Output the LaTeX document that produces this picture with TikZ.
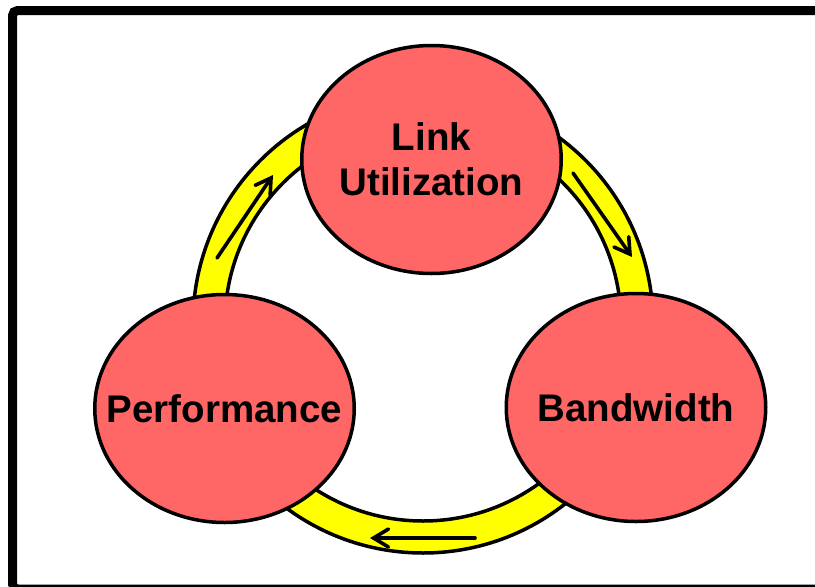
\documentclass[tikz,border=0pt]{standalone}
\usepackage{fontspec}
\setmainfont{Liberation Sans}
\usetikzlibrary{shapes.geometric,arrows.meta}
\definecolor{bubblered}{HTML}{FF6666}
\definecolor{ringyellow}{HTML}{FFFF00}
\tikzset{
  frame/.style={draw=black,line width=9pt,rounded corners=5pt},
  ring/.style={fill=ringyellow,draw=black,line width=3.5pt,even odd rule},
  bubble/.style={ellipse,draw=black,line width=3.5pt,fill=bubblered,
    minimum width=259.5pt,minimum height=228pt,inner sep=0pt},
  caption/.style={font=\bfseries\fontsize{38.5}{45}\selectfont,align=center,text=black},
  flow/.style={draw=black,line width=3.6pt,-{Straight Barb[length=15pt,width=18pt,line cap=round]},line cap=round}
}
\begin{document}
\begin{tikzpicture}[x=1pt,y=-1pt]
\useasboundingbox (0,0) rectangle (815,587);
% outer frame
\draw[frame] (12.5,10.5) rectangle (822,589);
% yellow cycle ring behind the bubbles
\coordinate (hub) at (423,323);
\path[ring] (hub) circle[radius=230] (hub) circle[radius=198];
% the three bubbles
\node[bubble,label={[caption]center:Link\\Utilization}] (lu) at (431.5,159.5) {};
\node[bubble,label={[caption]center:Performance}] (pf) at (224.5,408.5) {};
\node[bubble,label={[caption]center:Bandwidth}] (bw) at (636,407.5) {};
% direction arrows inside the ring
\coordinate (a1s) at (217,258);
\coordinate (a1e) at (273,175);
\coordinate (a2s) at (573,173);
\coordinate (a2e) at (632,257);
\coordinate (a3s) at (475,538);
\coordinate (a3e) at (370,538);
\draw[flow] (a1s) -- (a1e);
\draw[flow] (a2s) -- (a2e);
\draw[flow] (a3s) -- (a3e);
\end{tikzpicture}
\end{document}
